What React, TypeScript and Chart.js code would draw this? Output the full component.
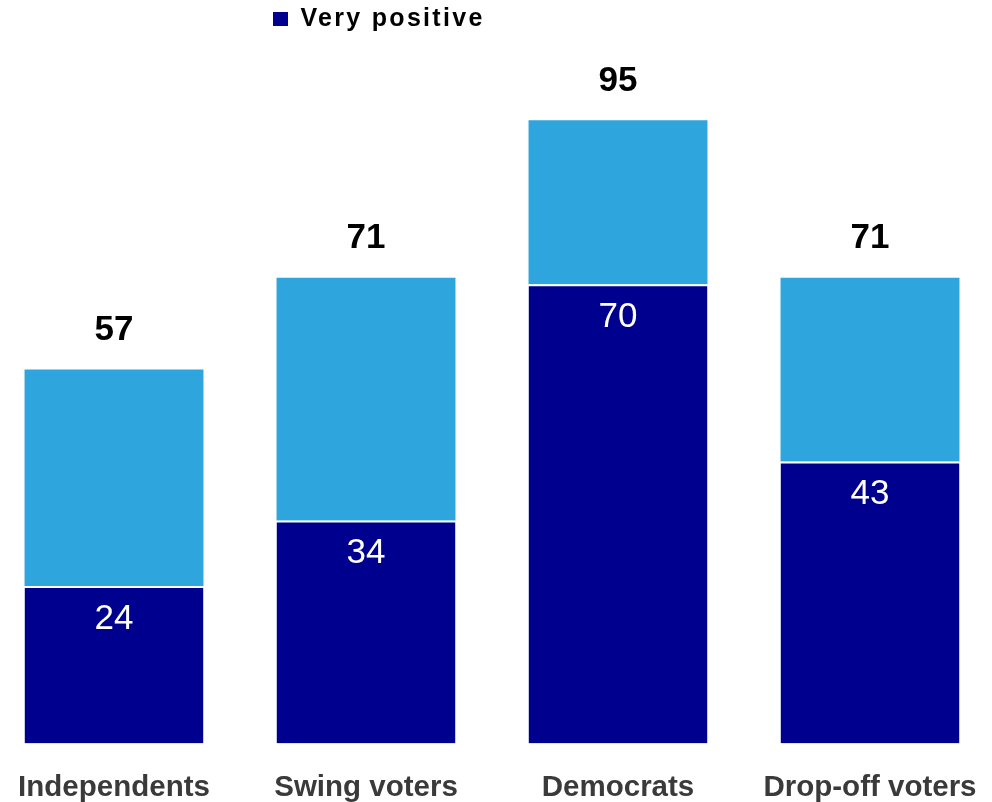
import React, { useEffect, useRef } from "react";
import { Chart, registerables } from "chart.js";

Chart.register(...registerables);

const categories = ["Independents", "Swing voters", "Democrats", "Drop-off voters"];
const veryPositive = [24, 34, 70, 43];
const somewhatPositive = [33, 37, 25, 28];
const seriesNames = ["Very positive", "Somewhat positive"];

const DARK = "#00008E";
const LIGHT = "#2EA5DC";
const FONT = "'Liberation Sans', Arial, sans-serif";

const labelPlugin = {
  id: "barLabels",
  afterDatasetsDraw(chart: any) {
    const ctx = chart.ctx;
    const darkMeta = chart.getDatasetMeta(0);
    const lightMeta = chart.getDatasetMeta(1);
    ctx.save();
    ctx.textAlign = "center";
    ctx.textBaseline = "middle";
    darkMeta.data.forEach((bar: any, i: number) => {
      ctx.fillStyle = "#ffffff";
      ctx.font = `normal 35px ${FONT}`;
      ctx.fillText(String(veryPositive[i]), bar.x, bar.y + 33);
    });
    lightMeta.data.forEach((bar: any, i: number) => {
      ctx.fillStyle = "#000000";
      ctx.font = `bold 35px ${FONT}`;
      ctx.fillText(String(veryPositive[i] + somewhatPositive[i]), bar.x, bar.y - 39);
    });
    ctx.restore();
  },
};

const legendTweak = {
  id: "legendTweak",
  afterLayout(chart: any) {
    const lg = chart.legend;
    if (lg) {
      lg.left = 278.5;
    }
  },
  beforeDraw(chart: any) {
    const lg = chart.legend;
    if (lg && !lg.__wrapped) {
      const orig = lg.draw;
      lg.draw = function (...args: any[]) {
        const c = this.ctx;
        c.save();
        try {
          (c as any).letterSpacing = "2.3px";
        } catch (e) {}
        orig.apply(this, args);
        c.restore();
      };
      lg.__wrapped = true;
    }
  },
};

export default function App() {
  const ref = useRef<HTMLCanvasElement | null>(null);
  useEffect(() => {
    if (!ref.current) return;
    const chart = new Chart(ref.current, {
      type: "bar",
      data: {
        labels: categories,
        datasets: [
          {
            label: seriesNames[0],
            data: veryPositive,
            backgroundColor: DARK,
            borderColor: "#ffffff",
            borderWidth: { top: 2, left: 0, right: 0, bottom: 0 },
            borderSkipped: false,
            categoryPercentage: 1,
            barPercentage: 0.71,
          },
          {
            label: seriesNames[1],
            data: somewhatPositive,
            backgroundColor: LIGHT,
            borderWidth: 0,
            categoryPercentage: 1,
            barPercentage: 0.71,
          },
        ],
      },
      options: {
        animation: false,
        responsive: true,
        maintainAspectRatio: false,
        layout: { padding: { left: 0, right: 20, top: 0, bottom: 0 } },
        plugins: {
          tooltip: { enabled: false },
          legend: {
            display: true,
            position: "top",
            align: "start",
            labels: {
              boxWidth: 15,
              boxHeight: 14,
              padding: 6.5,
              color: "#000000",
              font: { family: FONT, size: 25, weight: "bold" },
              generateLabels: () => [
                {
                  text: seriesNames[0],
                  fillStyle: DARK,
                  strokeStyle: DARK,
                  lineWidth: 0,
                  hidden: false,
                  datasetIndex: 0,
                } as any,
              ],
            },
          },
        },
        scales: {
          x: {
            stacked: true,
            grid: { display: false, drawTicks: false },
            border: { display: false },
            ticks: {
              color: "#3a3a3a",
              padding: 27,
              autoSkip: false,
              maxRotation: 0,
              font: { family: FONT, size: 29.5, weight: "bold" },
            },
          },
          y: {
            stacked: true,
            display: false,
            min: 0,
            max: 107,
          },
        },
      },
      plugins: [labelPlugin, legendTweak],
    });
    return () => chart.destroy();
  }, []);

  return (
    <div
      style={{
        position: "fixed",
        left: 0,
        top: 0,
        width: 992,
        height: 802,
        overflow: "hidden",
        background: "#ffffff",
      }}
    >
      <div style={{ position: "absolute", left: -12, top: 0, width: 1028, height: 833 }}>
        <canvas ref={ref} />
      </div>
    </div>
  );
}
